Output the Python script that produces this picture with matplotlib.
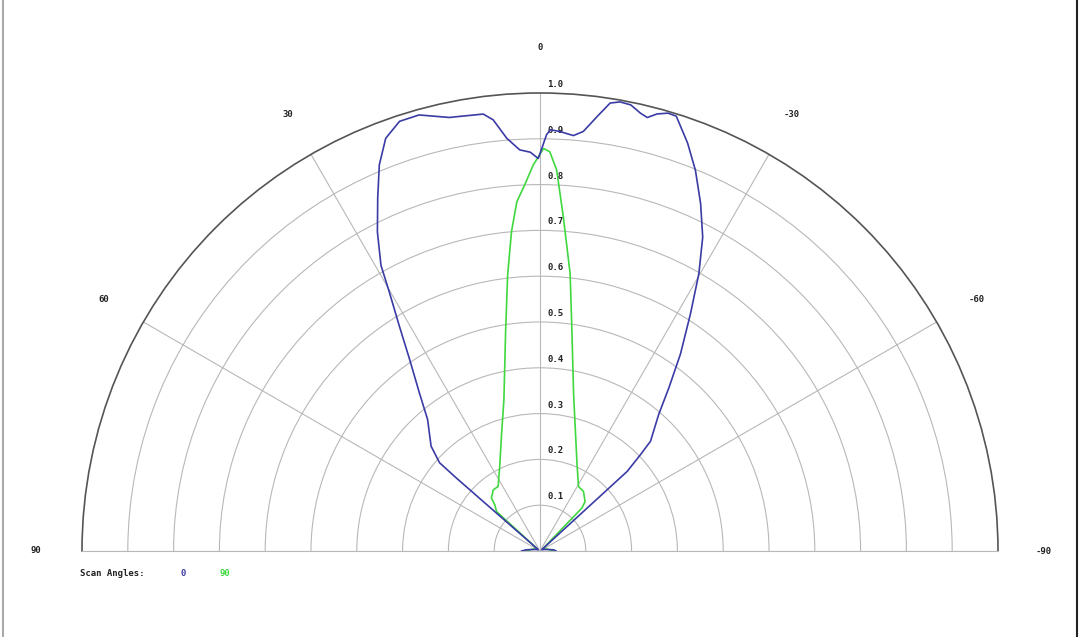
import numpy as np
import matplotlib.pyplot as plt
from matplotlib.lines import Line2D
from matplotlib.transforms import offset_copy

# scan angle 0 (degrees from broadside, positive to the left)
blue_theta = [90, 85, 70, 55, 50, 48.9, 48.7, 46.1, 40.5, 37.3, 34.2, 32.0, 30.2, 29.1,
              27.0, 24.7, 22.6, 20.5, 18.1, 15.5, 11.8, 10.5, 7.4, 6.2, 4.6, 2.9, 1.4,
              0.25, -0.9, -1.4, -2.7, -4.6, -5.9, -7.5, -8.9, -10.1, -11.5, -12.9, -13.9,
              -15.0, -16.3, -17.4, -19.9, -22.2, -24.8, -27.4, -29.8, -32.4, -35.5, -38.3,
              -41.0, -45.2, -46.2, -47.6, -50, -55, -70, -85, -90]
blue_r = [0.04, 0.03, 0.01, 0.005, 0.01, 0.243, 0.292, 0.330, 0.378, 0.435, 0.507, 0.580,
          0.654, 0.714, 0.782, 0.848, 0.913, 0.962, 0.987, 0.988, 0.967, 0.965, 0.962,
          0.947, 0.904, 0.877, 0.871, 0.857, 0.909, 0.920, 0.917, 0.910, 0.921, 0.957,
          0.990, 0.996, 0.994, 0.981, 0.975, 0.988, 0.996, 0.995, 0.947, 0.898, 0.836,
          0.772, 0.698, 0.613, 0.528, 0.454, 0.395, 0.340, 0.304, 0.258, 0.01, 0.005,
          0.01, 0.03, 0.035]

# scan angle 90
green_theta = [90, 80, 60, 50, 47.8, 44.4, 42.5, 37.4, 33.0, 25.4, 18.0, 13.4, 8.95, 6.7,
               5.1, 3.8, 2.4, 1.0, -0.5, -1.4, -2.5, -4.0, -6.2, -8.1, -12.1, -22.7,
               -30.8, -36.1, -42.4, -44.3, -50, -60, -80, -90]
green_r = [0.03, 0.02, 0.01, 0.01, 0.128, 0.141, 0.157, 0.168, 0.168, 0.205, 0.271, 0.340,
           0.483, 0.606, 0.700, 0.764, 0.800, 0.843, 0.879, 0.872, 0.833, 0.731, 0.609,
           0.493, 0.350, 0.209, 0.164, 0.161, 0.146, 0.131, 0.01, 0.01, 0.02, 0.03]

ring_values = [0.1, 0.2, 0.3, 0.4, 0.5, 0.6, 0.7, 0.8, 0.9, 1.0]
spoke_angles = [-90, -60, -30, 0, 30, 60, 90]
legend_labels = ["0", "90"]

BLUE = "#3b3ba6"
GREEN = "#3fd83f"
GRID = "#b8b8b8"
FONT = dict(family="DejaVu Sans Mono", fontsize=6.5, fontweight="bold", color="#222222")

W, H = 1080, 637
fig = plt.figure(figsize=(W / 100, H / 100), dpi=100)
cx, cy, R = 540, 551, 458
# a half-wedge polar axes is padded to a square box; the half circle sits in its middle
box_top = cy - 1.5 * R
ax = fig.add_axes([(cx - R) / W, (H - (box_top + 2 * R)) / H, 2 * R / W, 2 * R / H],
                  projection="polar")
ax.set_theta_zero_location("N")
ax.set_thetamin(-90)
ax.set_thetamax(90)
ax.set_ylim(0, 1)

ax.set_rgrids(ring_values[:-1], labels=[])
ax.set_thetagrids(spoke_angles, labels=[])
ax.grid(True, color=GRID, linewidth=0.8)
ax.spines["polar"].set_color("#555555")
ax.spines["polar"].set_linewidth(1.2)
for s in ("start", "end"):
    ax.spines[s].set_color(GRID)
    ax.spines[s].set_linewidth(0.8)

ax.plot(np.radians(blue_theta), blue_r, color=BLUE, linewidth=1.2, zorder=4)
ax.plot(np.radians(green_theta), green_r, color=GREEN, linewidth=1.2, zorder=3)

# angle labels outside the arc
for a in spoke_angles:
    ax.text(np.radians(a), 1.1, str(a), ha="center", va="center", clip_on=False, **FONT)

# radial labels just above each ring
trans = offset_copy(ax.transData, fig=fig, x=7, y=4, units="dots")
for r in ring_values:
    ax.text(0, r, f"{r:.1f}", transform=trans, ha="left", va="bottom", clip_on=False, **FONT)

# legend line
fig.text(80 / W, 1 - 573 / H, "Scan Angles:", ha="left", va="center", **FONT)
fig.text(183 / W, 1 - 573 / H, legend_labels[0], ha="center", va="center",
         **{**FONT, "color": BLUE})
fig.text(225 / W, 1 - 573 / H, legend_labels[1], ha="center", va="center",
         **{**FONT, "color": GREEN})

# thin frame edges
fig.add_artist(Line2D([3 / W, 3 / W], [0, 1], color="#aaaaaa", linewidth=1.5, transform=fig.transFigure))
fig.add_artist(Line2D([1077 / W, 1077 / W], [0, 1], color="#222222", linewidth=1.5, transform=fig.transFigure))

fig.savefig("out.png", dpi=100)
